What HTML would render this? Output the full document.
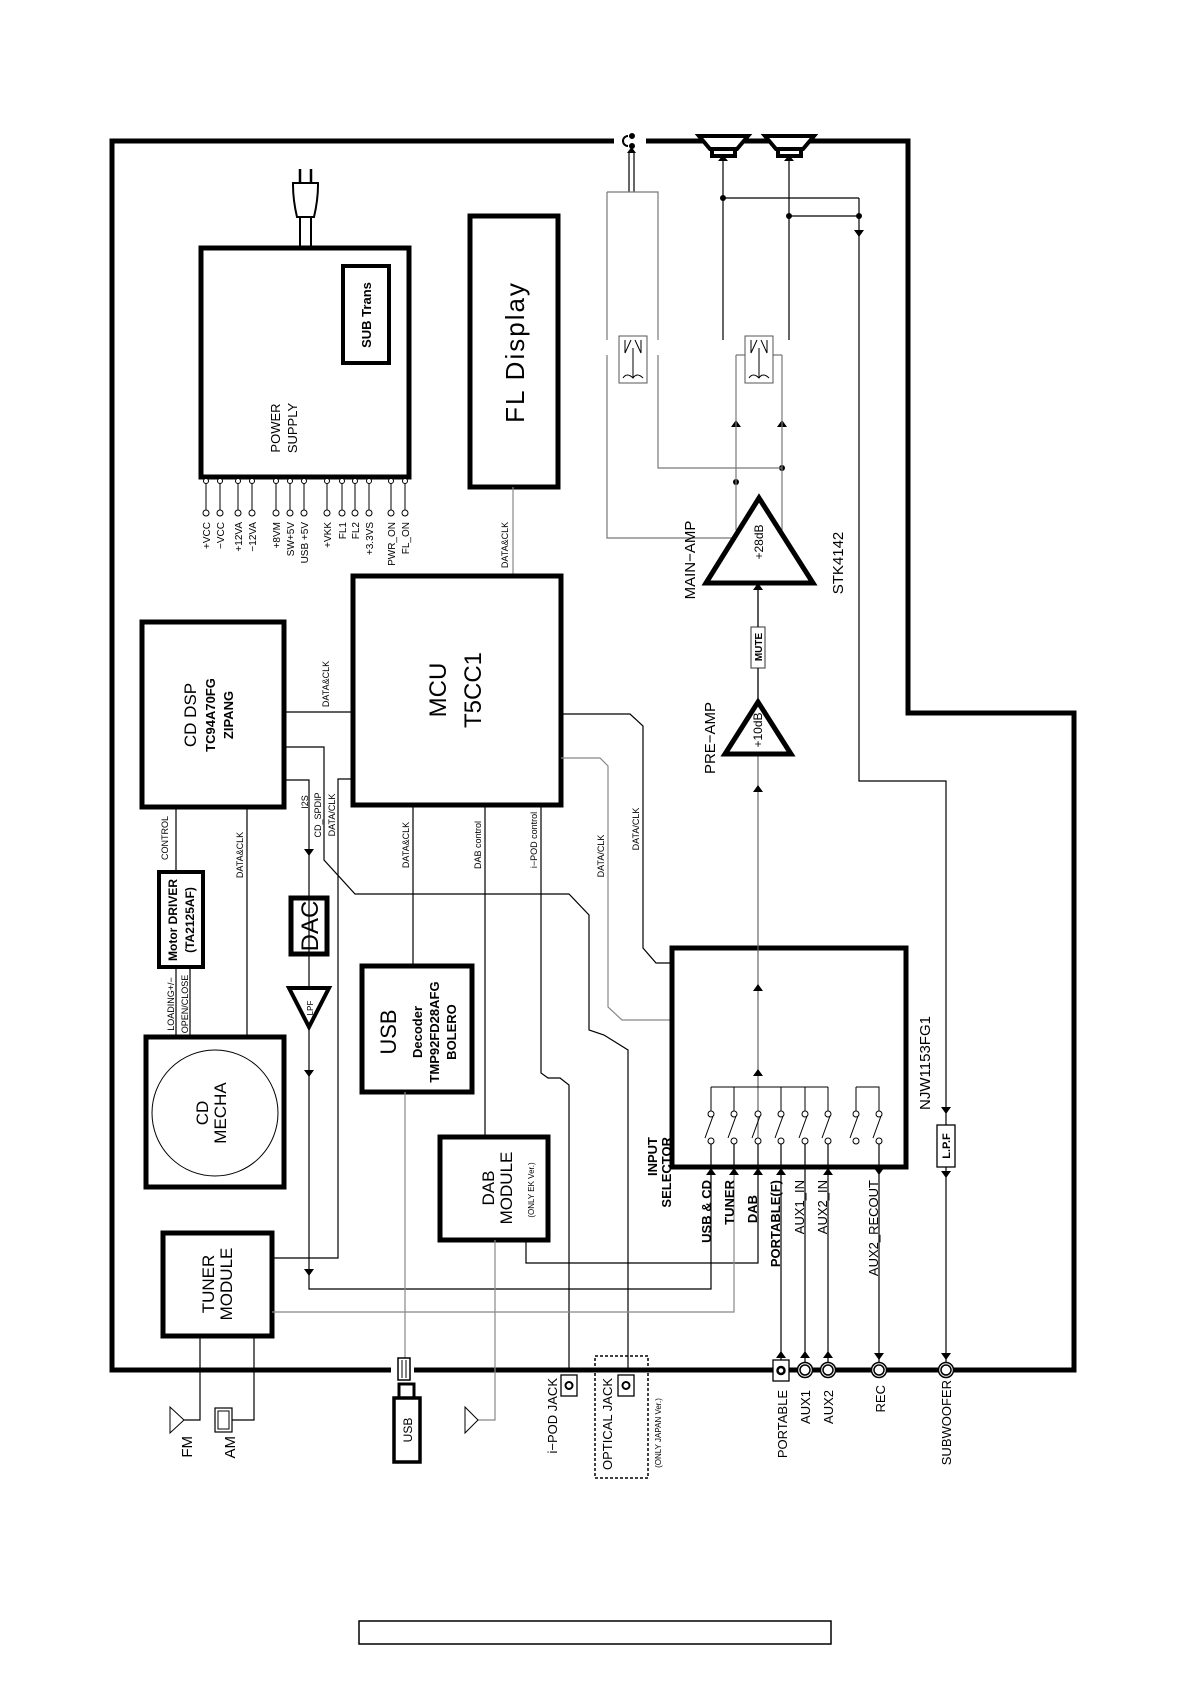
<!DOCTYPE html>
<html><head><meta charset="utf-8"><style>
html,body{margin:0;padding:0;background:#fff;}
svg{display:block;}
text{font-family:"Liberation Sans",sans-serif;fill:#000;}
</style></head><body>
<svg width="1190" height="1684" viewBox="0 0 1190 1684" xmlns="http://www.w3.org/2000/svg">
<g fill="none" stroke="#000">
<path d="M112,141 H908 V713 H1074 V1370 H112 Z" stroke-width="5"/>
<rect x="614" y="136" width="32" height="10" fill="#fff" stroke="none"/>
<rect x="391" y="1365" width="23" height="10" fill="#fff" stroke="none"/>
<path d="M628,136 A5,5 0 1 0 628,146" stroke-width="2"/>
<circle cx="632" cy="136" r="2.5" fill="#000"/><circle cx="632" cy="146" r="2.5" fill="#000"/>
<path d="M629,192 V152 M634,192 V152" stroke-width="1.2"/>
<path d="M627,153 L631.5,147 L636,153 Z" fill="#000" stroke="none"/>
<g stroke-width="4" fill="#fff">
<path d="M699,136 H748 L737,149 H710 Z"/><rect x="712" y="149" width="23" height="7"/>
<path d="M765,136 H814 L803,149 H776 Z"/><rect x="778" y="149" width="23" height="7"/>
</g>
<rect x="201" y="248" width="208" height="229" stroke-width="5"/>
<rect x="343" y="266" width="46" height="97" stroke-width="4"/>
<path d="M300,248 V217 M311,248 V217" stroke-width="2"/>
<path d="M297,217 H314 Q318,200 318,185 V183 H293 V185 Q293,200 297,217 Z" stroke-width="2" fill="#fff"/>
<path d="M300,183 V169 M311,183 V169" stroke-width="2.5"/>
<g stroke-width="1">
<path d="M206,481V513M220,481V513M238,481V513M252,481V513M276,481V513M290,481V513M304,481V513M327,481V513M342,481V513M355,481V513M369,481V513M391,481V513M405,481V513"/>
</g>
<g stroke-width="1" fill="#fff">
<circle cx="206" cy="481" r="2.5"/><circle cx="220" cy="481" r="2.5"/><circle cx="238" cy="481" r="2.5"/><circle cx="252" cy="481" r="2.5"/><circle cx="276" cy="481" r="2.5"/><circle cx="290" cy="481" r="2.5"/><circle cx="304" cy="481" r="2.5"/><circle cx="327" cy="481" r="2.5"/><circle cx="342" cy="481" r="2.5"/><circle cx="355" cy="481" r="2.5"/><circle cx="369" cy="481" r="2.5"/><circle cx="391" cy="481" r="2.5"/><circle cx="405" cy="481" r="2.5"/>
<circle cx="206" cy="513" r="3"/><circle cx="220" cy="513" r="3"/><circle cx="238" cy="513" r="3"/><circle cx="252" cy="513" r="3"/><circle cx="276" cy="513" r="3"/><circle cx="290" cy="513" r="3"/><circle cx="304" cy="513" r="3"/><circle cx="327" cy="513" r="3"/><circle cx="342" cy="513" r="3"/><circle cx="355" cy="513" r="3"/><circle cx="369" cy="513" r="3"/><circle cx="391" cy="513" r="3"/><circle cx="405" cy="513" r="3"/>
</g>
<rect x="470" y="216" width="88" height="271" stroke-width="5"/>
<path d="M513,487 V575" stroke="#888" stroke-width="1.2"/>
<rect x="353" y="576" width="208" height="229" stroke-width="5"/>
<rect x="142" y="622" width="142" height="185" stroke-width="5"/>
<path d="M284,712 H353" stroke-width="1.2"/>
<path d="M284,747 H324 V860 L355,894 H569 L589,915 V1030 L604,1035 L628,1050 V1370" stroke-width="1.2"/>
<path d="M284,780 H309 V1273" stroke-width="1.2"/>
<path d="M353,779 H338 V1258 H272" stroke-width="1.2"/>
<path d="M304,849 H314 L309,856 Z M304,1070 H314 L309,1077 Z M304,1269 H314 L309,1276 Z" fill="#000" stroke="none"/>
<path d="M309,1273 V1289 H711 V1167" stroke-width="1.2"/>
<rect x="291" y="898" width="36" height="56" stroke-width="5"/>
<path d="M289,988 H329 L309,1027 Z" stroke-width="4" fill="#fff"/>
<path d="M176,807 V872 M247,807 V1037 M176,967 V1037 M190,967 V1037" stroke-width="1.2"/>
<rect x="159" y="872" width="44" height="95" stroke-width="4"/>
<rect x="146" y="1037" width="138" height="150" stroke-width="5"/>
<circle cx="215" cy="1113" r="63" stroke-width="1"/>
<path d="M413,805 V966" stroke-width="1.2"/>
<rect x="362" y="966" width="110" height="126" stroke-width="5"/>
<path d="M405,1092 V1360" stroke="#888" stroke-width="1.2"/>
<rect x="398" y="1358" width="12" height="22" stroke-width="1.5" fill="#fff"/>
<path d="M402,1360 V1378 M406,1360 V1378" stroke-width="1"/>
<rect x="399" y="1384" width="15" height="14" stroke-width="3"/>
<rect x="394" y="1398" width="26" height="64" stroke-width="3.5"/>
<path d="M485,805 V1137" stroke-width="1.2"/>
<rect x="440" y="1137" width="108" height="103" stroke-width="5"/>
<path d="M526,1240 V1263 H758 V1167" stroke-width="1.2"/>
<path d="M495,1240 V1420 H478" stroke="#888" stroke-width="1.2"/>
<path d="M478,1420 L465,1407 V1433 Z" stroke-width="1" fill="#fff"/>
<path d="M541,805 V1073 L548,1078 H560 L569,1085 V1370" stroke-width="1.2"/>
<rect x="561" y="1375" width="16" height="21" stroke-width="1.3"/>
<circle cx="569" cy="1385.5" r="3.5" stroke-width="2"/>
<rect x="618" y="1375" width="16" height="21" stroke-width="1.3"/>
<circle cx="626" cy="1385.5" r="3.5" stroke-width="2"/>
<rect x="595" y="1356" width="53" height="122" stroke-width="1.5" stroke-dasharray="3,2"/>
<rect x="163" y="1233" width="109" height="103" stroke-width="5"/>
<path d="M272,1312 H734 V1167" stroke="#888" stroke-width="1.2"/>
<path d="M200,1336 V1420 H184 M254,1336 V1420 H232" stroke-width="1.2"/>
<path d="M184,1420 L170,1407 V1433 Z" stroke-width="1" fill="#fff"/>
<rect x="215" y="1408" width="17" height="24" stroke-width="1.2"/>
<rect x="218" y="1411" width="11" height="18" stroke-width="1"/>
<path d="M561,714 H630 L643,726 V948 L656,963 H672" stroke-width="1.2"/>
<path d="M561,758 H600 L608,766 V1007 L622,1020 H672" stroke="#888" stroke-width="1.2"/>
<rect x="672" y="948" width="234" height="219" stroke-width="5"/>
<path d="M758,1141 V588" stroke="#666" stroke-width="1.2"/>
<path d="M711,1087 H828 M711,1087 V1111 M734,1087 V1111 M781,1087 V1111 M805,1087 V1111 M828,1087 V1111 M856,1087 V1111 M856,1087 H879 V1111" stroke-width="1"/>
<g stroke-width="1">
<path d="M705,1138 L713,1116 M728,1138 L736,1116 M752,1138 L760,1116 M775,1138 L783,1116 M799,1138 L807,1116 M822,1138 L830,1116 M850,1138 L858,1116 M873,1138 L881,1116"/>
</g>
<g stroke-width="1" fill="#fff">
<circle cx="711" cy="1114" r="3"/><circle cx="734" cy="1114" r="3"/><circle cx="758" cy="1114" r="3"/><circle cx="781" cy="1114" r="3"/><circle cx="805" cy="1114" r="3"/><circle cx="828" cy="1114" r="3"/><circle cx="856" cy="1114" r="3"/><circle cx="879" cy="1114" r="3"/>
<circle cx="711" cy="1141" r="3"/><circle cx="734" cy="1141" r="3"/><circle cx="758" cy="1141" r="3"/><circle cx="781" cy="1141" r="3"/><circle cx="805" cy="1141" r="3"/><circle cx="828" cy="1141" r="3"/><circle cx="856" cy="1141" r="3"/><circle cx="879" cy="1141" r="3"/>
</g>
<path d="M711,1144V1167 M734,1144V1167 M758,1144V1167 M781,1144V1360 M805,1144V1363 M828,1144V1363 M879,1144V1363" stroke-width="1.2"/>
<g fill="#000" stroke="none">
<path d="M706,1175H716L711,1168Z M729,1175H739L734,1168Z M753,1175H763L758,1168Z M776,1175H786L781,1168Z M823,1175H833L828,1168Z M874,1168H884L879,1175Z"/>
<path d="M776,1358H786L781,1351Z M800,1358H810L805,1351Z M823,1358H833L828,1351Z M874,1353H884L879,1360Z"/>
<path d="M753,991H763L758,984Z M753,1076H763L758,1069Z M753,792H763L758,785Z M753,590H763L758,583Z"/>
<path d="M941,1107H951L946,1114Z M941,1171H951L946,1178Z M941,1353H951L946,1360Z"/>
<path d="M854,230H864L859,237Z M718,161H728L723,155Z M784,161H794L789,155Z M731,427H741L736,420Z M777,427H787L782,420Z"/>
</g>
<rect x="773" y="1360" width="16" height="21" stroke-width="1.3" fill="#fff"/>
<circle cx="781" cy="1370.5" r="3.5" stroke-width="2.5"/>
<g stroke-width="1.5" fill="#fff">
<circle cx="805" cy="1370" r="7.5"/><circle cx="805" cy="1370" r="5"/>
<circle cx="828" cy="1370" r="7.5"/><circle cx="828" cy="1370" r="5"/>
<circle cx="879" cy="1370" r="7.5"/><circle cx="879" cy="1370" r="5"/>
<circle cx="946" cy="1370" r="7.5"/><circle cx="946" cy="1370" r="5"/>
</g>
<path d="M859,198 V781 H946 V1125 M946,1167 V1362" stroke-width="1.2"/>
<rect x="937" y="1125" width="18" height="42" stroke-width="1.3"/>
<path d="M723,158 V340 M789,158 V340 M723,198 H859 M789,216 H859" stroke-width="1.2"/>
<g fill="#000" stroke="none"><circle cx="723" cy="198" r="3"/><circle cx="789" cy="216" r="3"/><circle cx="859" cy="216" r="3"/><circle cx="782" cy="468" r="3"/><circle cx="736" cy="482" r="3"/></g>
<path d="M607,192 H658 V340 M607,192 V340 M607,355 V538 H736 M658,355 V468 H782" stroke="#777" stroke-width="1.2"/>
<path d="M736,355 V530 M782,355 V530" stroke="#777" stroke-width="1.2"/>
<path d="M736,355 H745 M773,355 H782" stroke="#777" stroke-width="1.2"/>
<rect x="619" y="336" width="28" height="47" stroke="#555" stroke-width="1"/>
<rect x="745" y="336" width="28" height="47" stroke="#555" stroke-width="1"/>
<path d="M625,340 V353 L631,340 M641,340 V353 L635,340 M633,348 V378 M623,378 Q627,372 633,378 Q637,372 643,378 M751,340 V353 L757,340 M767,340 V353 L761,340 M759,348 V378 M749,378 Q753,372 759,378 Q763,372 769,378" stroke-width="1"/>
<path d="M759,498 L813,583 H706 Z" stroke-width="5" stroke-linejoin="miter" fill="#fff"/>
<rect x="751" y="627" width="14" height="41" stroke="#555" stroke-width="1.2" fill="#fff"/>
<path d="M758,588 V627 M758,668 V700" stroke-width="1.2"/>
<path d="M758,702 L791,754 H725 Z" stroke-width="5" fill="#fff"/>
<rect x="359" y="1621" width="472" height="23" stroke-width="1.5"/>
</g>

<g font-size="10">
<g text-anchor="end">
<text transform="translate(210,522) rotate(-90)">+VCC</text>
<text transform="translate(224,522) rotate(-90)">−VCC</text>
<text transform="translate(242,522) rotate(-90)">+12VA</text>
<text transform="translate(256,522) rotate(-90)">−12VA</text>
<text transform="translate(280,522) rotate(-90)">+8VM</text>
<text transform="translate(294,522) rotate(-90)">SW+5V</text>
<text transform="translate(308,522) rotate(-90)">USB +5V</text>
<text transform="translate(331,522) rotate(-90)">+VKK</text>
<text transform="translate(346,522) rotate(-90)">FL1</text>
<text transform="translate(359,522) rotate(-90)">FL2</text>
<text transform="translate(373,522) rotate(-90)">+3.3VS</text>
<text transform="translate(395,522) rotate(-90)">PWR_ON</text>
<text transform="translate(409,522) rotate(-90)">FL_ON</text>
</g>
<g text-anchor="middle" font-size="9">
<text transform="translate(508,545) rotate(-90)">DATA&amp;CLK</text>
<text transform="translate(329,684) rotate(-90)">DATA&amp;CLK</text>
<text transform="translate(168,838) rotate(-90)">CONTROL</text>
<text transform="translate(243,855) rotate(-90)">DATA&amp;CLK</text>
<text transform="translate(308,802) rotate(-90)">I2S</text>
<text transform="translate(321,815) rotate(-90)">CD_SPDIP</text>
<text transform="translate(335,815) rotate(-90)">DATA/CLK</text>
<text transform="translate(409,845) rotate(-90)">DATA&amp;CLK</text>
<text transform="translate(481,845) rotate(-90)">DAB control</text>
<text transform="translate(537,840) rotate(-90)">i−POD control</text>
<text transform="translate(604,856) rotate(-90)">DATA/CLK</text>
<text transform="translate(639,829) rotate(-90)">DATA/CLK</text>
<text transform="translate(174,1004) rotate(-90)">LOADING+/−</text>
<text transform="translate(188,1004) rotate(-90)">OPEN/CLOSE</text>
<text transform="translate(313,1008) rotate(-90)" font-size="8">LPF</text>
<text transform="translate(534,1190) rotate(-90)" font-size="8">(ONLY EK Ver.)</text>
<text transform="translate(661,1433) rotate(-90)" font-size="8">(ONLY JAPAN Ver.)</text>
</g>
<g text-anchor="middle">
<text transform="translate(280,428) rotate(-90)" font-size="13">POWER</text>
<text transform="translate(297,428) rotate(-90)" font-size="13">SUPPLY</text>
<text transform="translate(371,315) rotate(-90)" font-size="13" font-weight="bold">SUB Trans</text>
<text transform="translate(524,352) rotate(-90)" font-size="26" letter-spacing="2">FL Display</text>
<text transform="translate(446,690) rotate(-90)" font-size="24">MCU</text>
<text transform="translate(481,690) rotate(-90)" font-size="24">T5CC1</text>
<text transform="translate(196,715) rotate(-90)" font-size="17">CD DSP</text>
<text transform="translate(215,715) rotate(-90)" font-size="13" font-weight="bold">TC94A70FG</text>
<text transform="translate(233,715) rotate(-90)" font-size="13" font-weight="bold">ZIPANG</text>
<text transform="translate(177,920) rotate(-90)" font-size="12" font-weight="bold">Motor DRIVER</text>
<text transform="translate(194,920) rotate(-90)" font-size="12" font-weight="bold">(TA2125AF)</text>
<text transform="translate(318,926) rotate(-90)" font-size="24">DAC</text>
<text transform="translate(208,1113) rotate(-90)" font-size="17">CD</text>
<text transform="translate(226,1113) rotate(-90)" font-size="17">MECHA</text>
<text transform="translate(396,1032) rotate(-90)" font-size="22">USB</text>
<text transform="translate(422,1032) rotate(-90)" font-size="13" font-weight="bold">Decoder</text>
<text transform="translate(439,1032) rotate(-90)" font-size="13" font-weight="bold">TMP92FD28AFG</text>
<text transform="translate(456,1032) rotate(-90)" font-size="13" font-weight="bold">BOLERO</text>
<text transform="translate(494,1188) rotate(-90)" font-size="17">DAB</text>
<text transform="translate(512,1188) rotate(-90)" font-size="17">MODULE</text>
<text transform="translate(214,1284) rotate(-90)" font-size="17">TUNER</text>
<text transform="translate(232,1284) rotate(-90)" font-size="17">MODULE</text>
<text transform="translate(412,1430) rotate(-90)" font-size="12">USB</text>
<text transform="translate(763,542) rotate(-90)" font-size="12">+28dB</text>
<text transform="translate(762,730) rotate(-90)" font-size="12">+10dB</text>
<text transform="translate(762,647) rotate(-90)" font-size="10" font-weight="bold">MUTE</text>
<text transform="translate(950,1146) rotate(-90)" font-size="11" font-weight="bold">L.P.F</text>
</g>
<g font-size="15" text-anchor="middle">
<text transform="translate(695,560) rotate(-90)">MAIN−AMP</text>
<text transform="translate(843,563) rotate(-90)">STK4142</text>
<text transform="translate(715,738) rotate(-90)">PRE−AMP</text>
<text transform="translate(930,1063) rotate(-90)">NJW1153FG1</text>
</g>
<g font-size="13" text-anchor="end" font-weight="bold">
<text transform="translate(657,1137) rotate(-90)">INPUT</text>
<text transform="translate(671,1137) rotate(-90)">SELECTOR</text>
</g>
<g font-size="13" text-anchor="end">
<text transform="translate(711,1180) rotate(-90)" font-weight="bold">USB &amp; CD</text>
<text transform="translate(734,1180) rotate(-90)" font-weight="bold">TUNER</text>
<text transform="translate(757,1195) rotate(-90)" font-weight="bold">DAB</text>
<text transform="translate(780,1180) rotate(-90)" font-weight="bold">PORTABLE(F)</text>
<text transform="translate(804,1180) rotate(-90)">AUX1_IN</text>
<text transform="translate(827,1180) rotate(-90)">AUX2_IN</text>
<text transform="translate(878,1180) rotate(-90)">AUX2_RECOUT</text>
<text transform="translate(557,1378) rotate(-90)">i−POD JACK</text>
<text transform="translate(612,1378) rotate(-90)">OPTICAL JACK</text>
<text transform="translate(787,1390) rotate(-90)">PORTABLE</text>
<text transform="translate(810,1390) rotate(-90)">AUX1</text>
<text transform="translate(833,1390) rotate(-90)">AUX2</text>
<text transform="translate(885,1385) rotate(-90)">REC</text>
<text transform="translate(951,1380) rotate(-90)">SUBWOOFER</text>
<text transform="translate(192,1436) rotate(-90)" font-size="15">FM</text>
<text transform="translate(235,1436) rotate(-90)" font-size="15">AM</text>
</g>
</g>
</svg>
</body></html>
